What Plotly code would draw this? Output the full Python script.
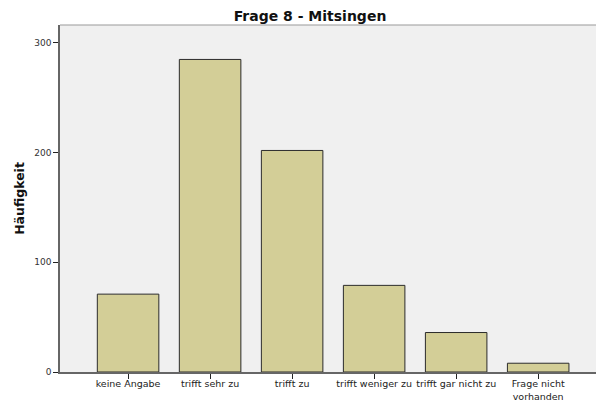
import plotly.graph_objects as go

categories = ["keine Angabe", "trifft sehr zu", "trifft zu", "trifft weniger zu",
              "trifft gar nicht zu", "Frage nicht<br>vorhanden"]
counts = [71, 285, 202, 79, 36, 8]
y_ticks = [0, 100, 200, 300]

FONT = "DejaVu Sans, Verdana, sans-serif"

fig = go.Figure(go.Bar(
    x=list(range(len(categories))), y=counts,
    marker=dict(color="#D3CE97", line=dict(color="#2b2b2b", width=1)),
    width=0.75,
))

fig.update_layout(
    width=604, height=401,
    margin=dict(l=52, r=0, t=17, b=37),
    paper_bgcolor="white", plot_bgcolor="#F0F0F0",
    font=dict(family=FONT, size=9, color="#222"),
    title=dict(text="<b>Frage 8 - Mitsingen</b>", x=0.5, xref="container", xanchor="center",
               y=1 - 8.5 / 401, yref="container", yanchor="middle",
               font=dict(family=FONT, size=14, color="#111")),
    showlegend=False,
)
fig.update_xaxes(
    tickmode="array", tickvals=list(range(len(categories))), ticktext=categories,
    range=[-0.83, 5.9], showgrid=False, zeroline=False,
    showline=True, linecolor="#666", linewidth=1.5,
    ticks="outside", ticklen=5, tickcolor="#222", tickwidth=1,
    ticklabelstandoff=-3,
    tickfont=dict(family=FONT, size=9.5, color="#222"), automargin=False,
)
fig.update_yaxes(
    tickmode="array", tickvals=y_ticks, range=[0, 316.4],
    showgrid=False, zeroline=False,
    showline=True, linecolor="#666", linewidth=1.5,
    ticks="outside", ticklen=5, tickcolor="#222", tickwidth=1,
    tickfont=dict(family=FONT, size=9, color="#333"), automargin=False,
    title=dict(text="<b>Häufigkeit</b>", font=dict(family=FONT, size=12.5, color="#111"), standoff=7),
)
fig.add_shape(type="line", xref="paper", yref="paper", x0=0, x1=1, y0=1, y1=1,
              line=dict(color="#999", width=1))

fig.write_html("out.html")
